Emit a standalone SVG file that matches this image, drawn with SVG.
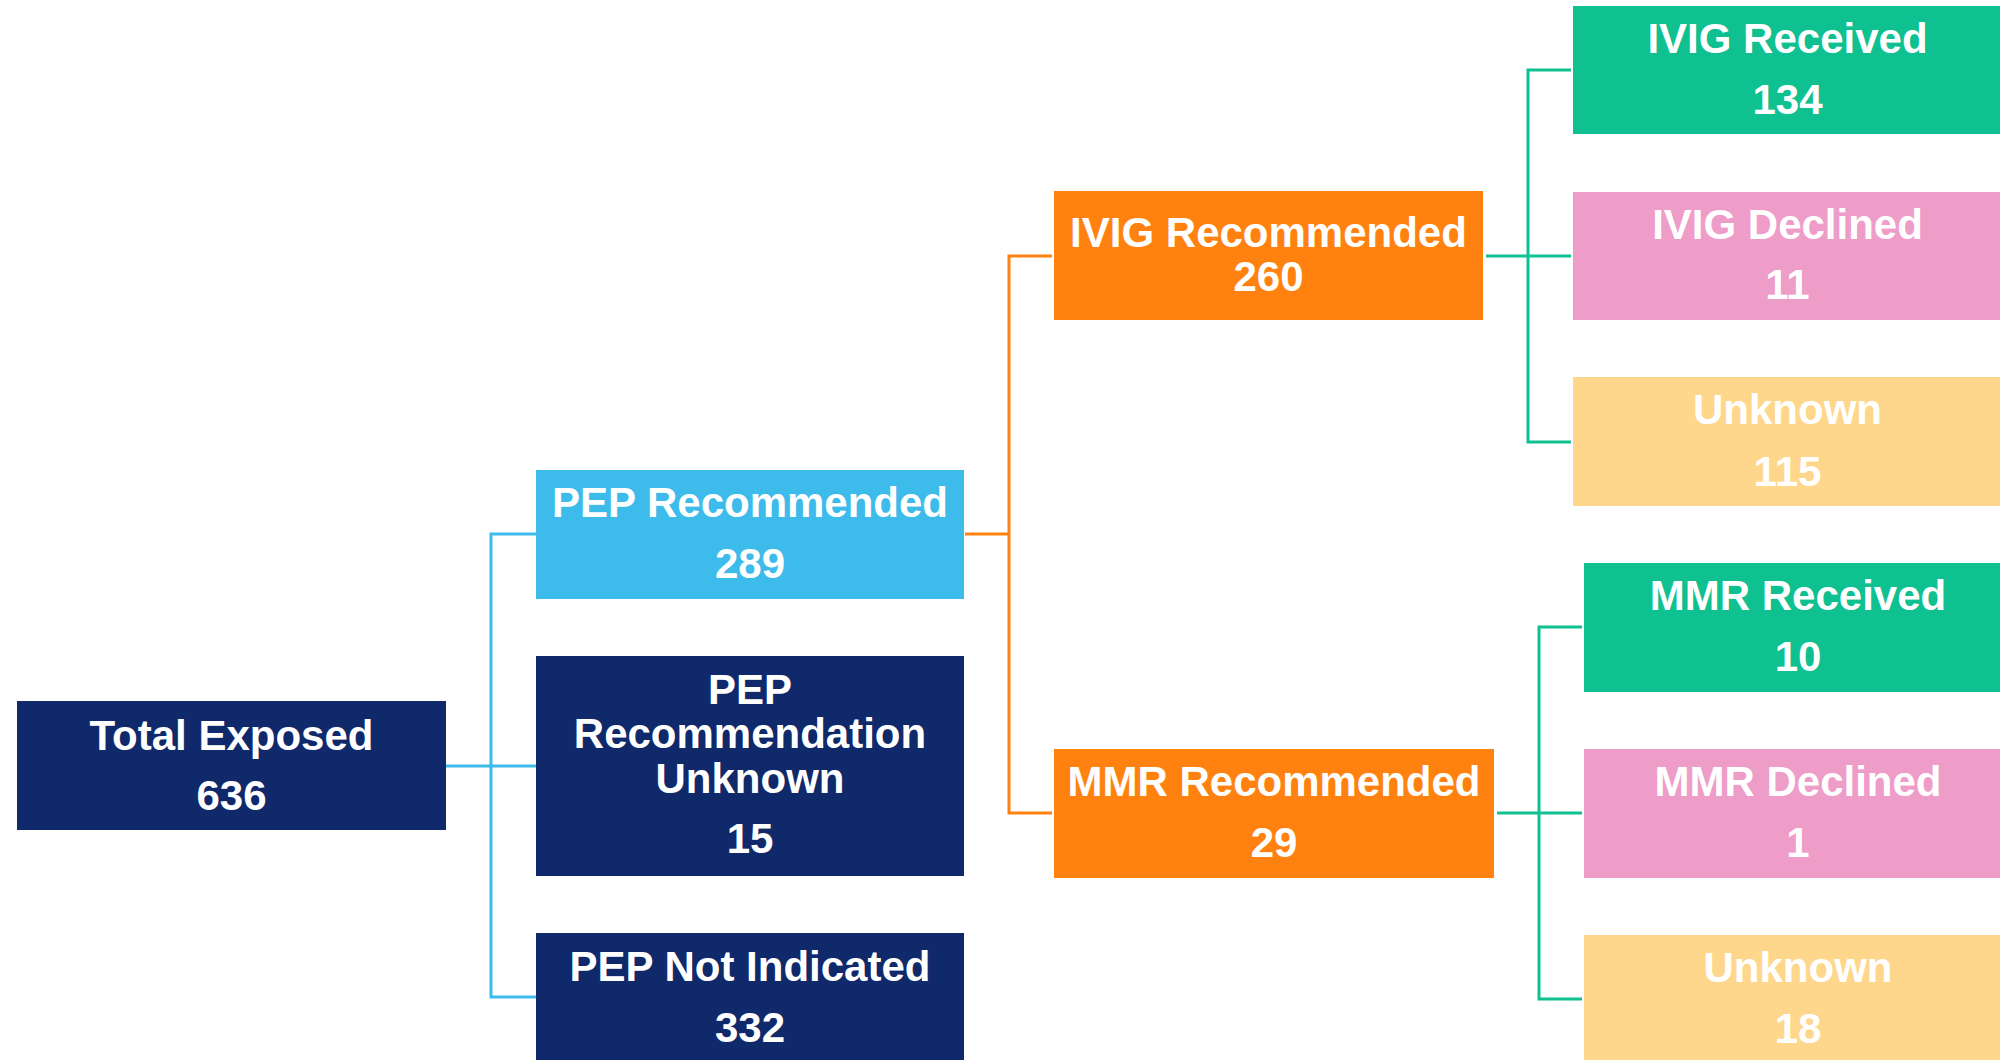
<svg xmlns="http://www.w3.org/2000/svg" width="2000" height="1060" viewBox="0 0 2000 1060">
<style>
text{font-family:"Liberation Sans",Arial,sans-serif;font-weight:bold;font-size:42px;fill:#ffffff;text-anchor:middle}
.navy{fill:#0F296B}
.blue{fill:#3DBBEA}
.orange{fill:#FF8211}
.green{fill:#0FC090}
.pink{fill:#EE9CC8}
.yellow{fill:#FED78C}
.c{fill:none;stroke-width:3}
</style>
<rect width="2000" height="1060" fill="#ffffff"/>
<g id="connectors">
<path class="c" stroke="#3DBBEA" d="M446,766H491M536,534H491V997H536M491,766H536"/>
<path class="c" stroke="#FF8211" d="M965,534H1009M1052,256H1009V813H1052"/>
<path class="c" stroke="#0FC090" d="M1486,256H1528M1571,70H1528V442H1571M1528,256H1571"/>
<path class="c" stroke="#0FC090" d="M1497,813H1539M1582,627H1539V999H1582M1539,813H1582"/>
</g>
<g id="total-exposed"><rect class="navy" x="17" y="701" width="429" height="129"/><text x="231.5" y="750">Total Exposed</text><text x="231.5" y="810">636</text></g>
<g id="pep-recommended"><rect class="blue" x="536" y="470" width="428" height="129"/><text x="750" y="517">PEP Recommended</text><text x="750" y="578">289</text></g>
<g id="pep-unknown"><rect class="navy" x="536" y="656" width="428" height="220"/><text x="750" y="704">PEP</text><text x="750" y="748">Recommendation</text><text x="750" y="793">Unknown</text><text x="750" y="853">15</text></g>
<g id="pep-not-indicated"><rect class="navy" x="536" y="933" width="428" height="140"/><text x="750" y="981">PEP Not Indicated</text><text x="750" y="1042">332</text></g>
<g id="ivig-recommended"><rect class="orange" x="1054" y="191" width="429" height="129"/><text x="1268.5" y="247">IVIG Recommended</text><text x="1268.5" y="291">260</text></g>
<g id="mmr-recommended"><rect class="orange" x="1054" y="749" width="440" height="129"/><text x="1274" y="796">MMR Recommended</text><text x="1274" y="857">29</text></g>
<g id="ivig-received"><rect class="green" x="1573" y="6" width="429" height="128"/><text x="1787.5" y="53">IVIG Received</text><text x="1787.5" y="114">134</text></g>
<g id="ivig-declined"><rect class="pink" x="1573" y="192" width="429" height="128"/><text x="1787.5" y="239">IVIG Declined</text><text x="1787.5" y="299">11</text></g>
<g id="ivig-unknown"><rect class="yellow" x="1573" y="377" width="429" height="129"/><text x="1787.5" y="424">Unknown</text><text x="1787.5" y="486">115</text></g>
<g id="mmr-received"><rect class="green" x="1584" y="563" width="429" height="129"/><text x="1798" y="610">MMR Received</text><text x="1798" y="671">10</text></g>
<g id="mmr-declined"><rect class="pink" x="1584" y="749" width="429" height="129"/><text x="1798" y="796">MMR Declined</text><text x="1798" y="857">1</text></g>
<g id="mmr-unknown"><rect class="yellow" x="1584" y="935" width="429" height="140"/><text x="1798" y="982">Unknown</text><text x="1798" y="1043">18</text></g>
</svg>
